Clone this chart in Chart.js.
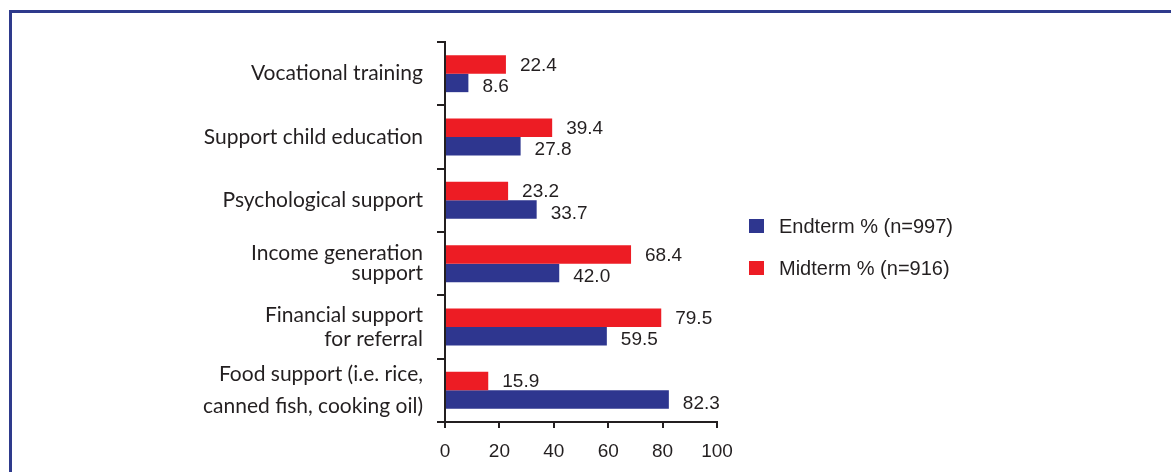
<!DOCTYPE html>
<html>
<head>
<meta charset="utf-8">
<script src="https://cdn.jsdelivr.net/npm/chart.js@4.4.1/dist/chart.umd.min.js"></script>
<style>
  html, body { margin: 0; padding: 0; background: #ffffff; }
  body { width: 1171px; height: 472px; position: relative; overflow: hidden; }
  #frame { position: absolute; left: 9px; top: 10px; width: 1300px; height: 600px;
           border-left: 3px solid #2e3a8c; border-top: 3px solid #2e3a8c; box-sizing: border-box; }
  #wrap { position: absolute; left: 0; top: 0; width: 1171px; height: 472px; }
  #legend { position: absolute; left: 749px; top: 212px; font-family: "Liberation Sans", Arial, sans-serif;
            font-size: 20px; color: #231f20; }
  .item { display: flex; align-items: center; height: 28px; margin-bottom: 14px; }
  .sw { width: 14.5px; height: 14.5px; margin-right: 15.5px; }
</style>
</head>
<body>
<div id="frame"></div>
<div id="wrap"><canvas id="c" width="1171" height="472"></canvas></div>
<div id="legend"></div>
<script>
const categories = [
  "Vocational training",
  "Support child education",
  "Psychological support",
  ["Income generation", "support"],
  ["Financial support", "for referral"],
  ["Food support (i.e. rice,", "canned fish, cooking oil)"]
];
const midtermValues = [22.4, 39.4, 23.2, 68.4, 79.5, 15.9];
const endtermValues = [8.6, 27.8, 33.7, 42.0, 59.5, 82.3];
const seriesNames = ["Midterm % (n=916)", "Endterm % (n=997)"];
const xTicks = [0, 20, 40, 60, 80, 100];

const RED = "#ed1c24";
const BLUE = "#2e368f";
const TEXT = "#231f20";
const labelLineHeights = [20, 20, 20, 20, 24, 32];

const valueLabels = {
  id: "valueLabels",
  afterDatasetsDraw(chart) {
    const ctx = chart.ctx;
    ctx.save();
    ctx.font = "19px 'Liberation Sans', Arial, sans-serif";
    ctx.fillStyle = TEXT;
    ctx.textAlign = "left";
    ctx.textBaseline = "middle";
    chart.data.datasets.forEach((ds, di) => {
      const meta = chart.getDatasetMeta(di);
      meta.data.forEach((bar, i) => {
        const dy = di === 0 ? 1 : 4;
        ctx.fillText(ds.data[i].toFixed(1), bar.x + 14, bar.y + dy);
      });
    });
    ctx.restore();
  }
};

const chart = new Chart(document.getElementById("c"), {
  type: "bar",
  data: {
    labels: categories,
    datasets: [
      { label: seriesNames[0], data: midtermValues, backgroundColor: RED,
        barPercentage: 1.0, categoryPercentage: 0.584 },
      { label: seriesNames[1], data: endtermValues, backgroundColor: BLUE,
        barPercentage: 1.0, categoryPercentage: 0.584 }
    ]
  },
  options: {
    indexAxis: "y",
    responsive: false,
    animation: false,
    layout: { padding: { top: 42, right: 454, bottom: 0, left: 0 } },
    plugins: { legend: { display: false }, tooltip: { enabled: false } },
    scales: {
      x: {
        min: 0, max: 100,
        afterFit: (s) => { s.height = 50; },
        afterBuildTicks: (s) => { s.ticks = xTicks.map(v => ({ value: v })); },
        border: { display: true, color: TEXT, width: 2 },
        grid: { display: true, drawOnChartArea: false, drawTicks: true, tickLength: 6, color: TEXT, lineWidth: 2 },
        ticks: { color: TEXT, padding: 12, font: { family: "'Liberation Sans', Arial, sans-serif", size: 19 } }
      },
      y: {
        afterFit: (s) => { s.width = 445; s.paddingTop = 0; s.paddingBottom = 0; },
        border: { display: true, color: TEXT, width: 2 },
        grid: { display: true, drawOnChartArea: false, drawTicks: true, tickLength: 8, color: TEXT, lineWidth: 2, offset: true },
        ticks: {
          autoSkip: false,
          color: TEXT, padding: 14,
          font: (ctx) => ({ family: "Lato, 'Open Sans', sans-serif", size: 21,
                            lineHeight: (labelLineHeights[ctx.index] || 20) + "px" })
        }
      }
    }
  },
  plugins: [valueLabels]
});

// legend (Endterm first, as in the reference)
const legendEl = document.getElementById("legend");
[[seriesNames[1], BLUE], [seriesNames[0], RED]].forEach(([name, col]) => {
  const it = document.createElement("div");
  it.className = "item";
  const sw = document.createElement("div");
  sw.className = "sw";
  sw.style.background = col;
  const tx = document.createElement("span");
  tx.textContent = name;
  it.appendChild(sw); it.appendChild(tx);
  legendEl.appendChild(it);
});
</script>
</body>
</html>
